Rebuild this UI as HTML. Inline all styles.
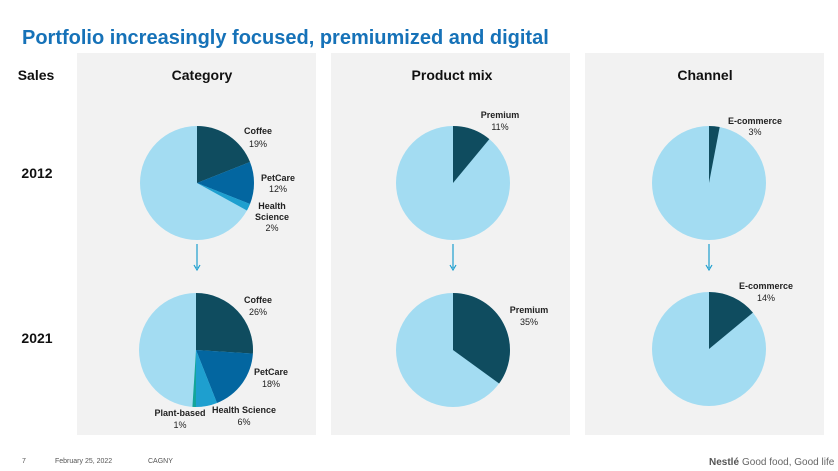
<!DOCTYPE html>
<html><head><meta charset="utf-8"><style>
body{margin:0;width:838px;height:471px;background:#fff;font-family:"Liberation Sans",sans-serif;overflow:hidden;position:relative}
svg{position:absolute;left:0;top:0}
</style></head><body>
<svg width="838" height="471" id="c">
<text x="22" y="44" font-size="20" font-weight="bold" fill="#1672b8">Portfolio increasingly focused, premiumized and digital</text>
<rect x="77" y="53" width="239" height="382" fill="#f2f2f2"/>
<rect x="331" y="53" width="239" height="382" fill="#f2f2f2"/>
<rect x="585" y="53" width="239" height="382" fill="#f2f2f2"/>
<g font-weight="bold" font-size="14" fill="#111" text-anchor="middle">
<text x="36" y="80">Sales</text>
<text x="202" y="80">Category</text>
<text x="452" y="80">Product mix</text>
<text x="705" y="80">Channel</text>
<text x="37" y="178">2012</text>
<text x="37" y="343">2021</text>
</g>
<g font-size="7" fill="#555">
<text x="22" y="463">7</text>
<text x="55" y="463">February 25, 2022</text>
<text x="148" y="463">CAGNY</text>
</g>
<text x="709" y="465" font-size="10" font-weight="bold" fill="#555">Nestlé</text>
<text x="742" y="465" font-size="10" fill="#666">Good food, Good life</text>
<g id="pies"></g>
</svg>
<script>
const cat2012 = [19, 12, 2];
const cat2021 = [26, 18, 6, 1];
const prem2012 = [11];
const prem2021 = [35];
const ecom2012 = [3];
const ecom2021 = [14];
const catColors = ['#0f4c5f', '#0366a0', '#1e9fcf', '#14a59a'];
const rest = '#a3dcf2';
const NS = 'http://www.w3.org/2000/svg';
const g = document.getElementById('pies');
function pt(cx, cy, r, pct) { const a = pct / 100 * 2 * Math.PI; return [cx + r * Math.sin(a), cy - r * Math.cos(a)]; }
function pie(cx, cy, r, vals, colors, name) {
  const c = document.createElementNS(NS, 'circle');
  c.setAttribute('cx', cx); c.setAttribute('cy', cy); c.setAttribute('r', r); c.setAttribute('fill', rest);
  
  
  g.appendChild(c);
  let acc = 0;
  vals.forEach((v, i) => {
    const s = pt(cx, cy, r, acc), e = pt(cx, cy, r, acc + v);
    const p = document.createElementNS(NS, 'path');
    p.setAttribute('d', `M${cx},${cy}L${s[0]},${s[1]}A${r},${r} 0 ${v > 50 ? 1 : 0} 1 ${e[0]},${e[1]}Z`);
    p.setAttribute('fill', colors[i]);
    
    
    g.appendChild(p);
    acc += v;
  });
}
pie(197, 183, 57, cat2012, catColors, 'category-2012');
pie(196, 350, 57, cat2021, catColors, 'category-2021');
pie(453, 183, 57, prem2012, catColors, 'product-2012');
pie(453, 350, 57, prem2021, catColors, 'product-2021');
pie(709, 183, 57, ecom2012, catColors, 'channel-2012');
pie(709, 349, 57, ecom2021, catColors, 'channel-2021');
[197, 453, 709].forEach((x, i) => {
  const l = document.createElementNS(NS, 'path');
  l.setAttribute('d', `M${x},244V268M${x - 3},265L${x},270L${x + 3},265`);
  l.setAttribute('stroke', '#1e9fcf'); l.setAttribute('fill', 'none'); l.setAttribute('stroke-width', '1.2');
  
  
  g.appendChild(l);
});
const labels = [
  [258, 134, 'Coffee', 'middle'], [258, 147, cat2012[0] + '%', 'middle'],
  [278, 181, 'PetCare', 'middle'], [278, 192, cat2012[1] + '%', 'middle'],
  [272, 209, 'Health', 'middle'], [272, 220, 'Science', 'middle'], [272, 231, cat2012[2] + '%', 'middle'],
  [258, 303, 'Coffee', 'middle'], [258, 315, cat2021[0] + '%', 'middle'],
  [271, 375, 'PetCare', 'middle'], [271, 387, cat2021[1] + '%', 'middle'],
  [244, 413, 'Health Science', 'middle'], [244, 425, cat2021[2] + '%', 'middle'],
  [180, 416, 'Plant-based', 'middle'], [180, 428, cat2021[3] + '%', 'middle'],
  [500, 118, 'Premium', 'middle'], [500, 130, prem2012[0] + '%', 'middle'],
  [529, 313, 'Premium', 'middle'], [529, 325, prem2021[0] + '%', 'middle'],
  [755, 124, 'E-commerce', 'middle'], [755, 135, ecom2012[0] + '%', 'middle'],
  [766, 289, 'E-commerce', 'middle'], [766, 301, ecom2021[0] + '%', 'middle']
];
labels.forEach((L, i) => {
  const t = document.createElementNS(NS, 'text');
  t.setAttribute('x', L[0]); t.setAttribute('y', L[1]); t.setAttribute('text-anchor', L[3]);
  t.setAttribute('font-size', '9'); t.setAttribute('fill', '#222');
  if (!/%$/.test(L[2])) t.setAttribute('font-weight', 'bold');
  t.textContent = L[2];
  
  
  g.appendChild(t);
});
</script>
</body></html>
